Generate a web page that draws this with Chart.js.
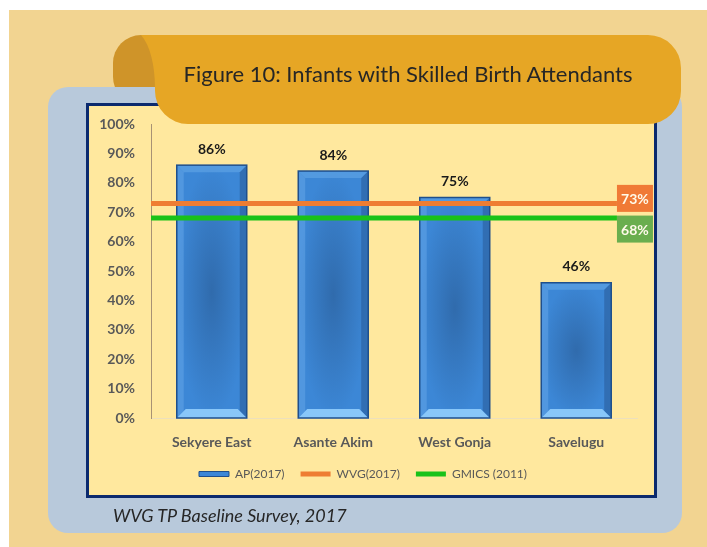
<!DOCTYPE html>
<html>
<head>
<meta charset="utf-8">
<script src="https://cdn.jsdelivr.net/npm/chart.js@4/dist/chart.umd.min.js"></script>
<style>
  html, body { margin:0; padding:0; }
  body { width:707px; height:547px; position:relative; overflow:hidden; background:#ffffff; font-family:Lato, sans-serif; }
  #bg, #banner { position:absolute; left:0; top:0; }
  #bg { z-index:0; }
  #box { position:absolute; left:86px; top:103px; width:565px; height:389px; border:3px solid #0B2A6E; background:#FFE89E; z-index:1; }
  #banner { z-index:2; }
  #title { position:absolute; left:0; width:816px; top:61px; line-height:26px; text-align:center; font-family:Lato, sans-serif; font-size:22px; color:#262626; z-index:3; white-space:nowrap; }
  #src { position:absolute; left:113px; top:504px; line-height:22px; font-family:Lato, sans-serif; font-style:italic; font-size:18px; color:#262626; z-index:3; white-space:nowrap; }
</style>
</head>
<body>
<svg id="bg" width="707" height="547">
  <rect x="9" y="10" width="698" height="537" fill="#F2D491"/>
  <rect x="113" y="35" width="70" height="70" rx="28" fill="#CF9429"/>
  <rect x="48" y="87" width="634" height="446" rx="20" fill="#B8C9DB"/>
</svg>
<div id="box"><canvas id="c" width="565" height="389" style="width:565px;height:389px;display:block"></canvas></div>
<svg id="banner" width="707" height="547">
  <path d="M141,35 H648 A33,33 0 0 1 681,68 V91 A33,33 0 0 1 648,124 H188 A33,33 0 0 1 155,91 V88 C155,65 150,45 141,35 Z" fill="#E6A625"/>
</svg>
<div id="title">Figure 10: Infants with Skilled Birth Attendants</div>
<div id="src">WVG TP Baseline Survey, 2017</div>
<script>
// ---- data ----
const categories = ['Sekyere East', 'Asante Akim', 'West Gonja', 'Savelugu'];
const apValues = [86, 84, 75, 46];
const wvgValue = 73;
const gmicsValue = 68;
const seriesNames = ['AP(2017)', 'WVG(2017)', 'GMICS (2011)'];
const yTickStep = 10;
const yMax = 100;

// ---- styling ----
const LINE_END = 3.835;           // reference lines stop where their label boxes start
const barColor = '#3C87D6';
const barEdge = '#1F4F8C';
const orange = '#EE7D33';
const green = '#19C219';
const orangeBox = '#F07A36';
const greenBox = '#6AAE4E';
const axisText = '#595959';

Chart.defaults.font.family = 'Lato, sans-serif';

const barBevel = {
  id: 'barBevel',
  afterDatasetDraw(chart, args) {
    if (args.index !== 0) return;
    const ctx = chart.ctx;
    args.meta.data.forEach(el => {
      const p = el.getProps(['x', 'y', 'base', 'width'], true);
      const l = p.x - p.width / 2, r = p.x + p.width / 2, t = p.y, b = p.base;
      const w = r - l, h = b - t, bv = 7;
      ctx.save();
      ctx.beginPath(); ctx.rect(l, t, w, h); ctx.clip();
      ctx.save();
      ctx.translate(p.x, (t + b) / 2);
      ctx.scale(w / 2, h / 2);
      const rg = ctx.createRadialGradient(0, 0, 0, 0, 0, 1);
      rg.addColorStop(0, 'rgba(30,65,110,0.4)');
      rg.addColorStop(1, 'rgba(30,65,110,0)');
      ctx.fillStyle = rg;
      ctx.fillRect(-1, -1, 2, 2);
      ctx.restore();
      ctx.fillStyle = 'rgba(120,180,240,0.35)';
      ctx.beginPath(); ctx.moveTo(l, t); ctx.lineTo(l + bv, t + bv); ctx.lineTo(l + bv, b - bv); ctx.lineTo(l, b); ctx.closePath(); ctx.fill();
      ctx.fillStyle = 'rgba(20,45,90,0.28)';
      ctx.beginPath(); ctx.moveTo(r, t); ctx.lineTo(r - bv, t + bv); ctx.lineTo(r - bv, b - bv); ctx.lineTo(r, b); ctx.closePath(); ctx.fill();
      ctx.fillStyle = 'rgba(140,200,250,0.3)';
      ctx.beginPath(); ctx.moveTo(l, t); ctx.lineTo(r, t); ctx.lineTo(r - bv, t + bv); ctx.lineTo(l + bv, t + bv); ctx.closePath(); ctx.fill();
      ctx.fillStyle = 'rgba(150,210,255,0.85)';
      ctx.beginPath(); ctx.moveTo(l, b); ctx.lineTo(r, b); ctx.lineTo(r - bv - 2, b - bv - 2); ctx.lineTo(l + bv + 2, b - bv - 2); ctx.closePath(); ctx.fill();
      ctx.restore();
      ctx.save();
      ctx.strokeStyle = barEdge; ctx.lineWidth = 1.5;
      ctx.strokeRect(l, t, w, h);
      ctx.restore();
    });
  }
};

const labelsPlugin = {
  id: 'valueLabels',
  afterDatasetsDraw(chart) {
    const ctx = chart.ctx;
    ctx.save();
    const barMeta = chart.getDatasetMeta(0);
    ctx.font = 'bold 14px Lato, sans-serif';
    ctx.fillStyle = '#1a1a1a';
    ctx.textAlign = 'center';
    ctx.textBaseline = 'middle';
    barMeta.data.forEach((el, i) => {
      const p = el.getProps(['x', 'y'], true);
      ctx.fillText(chart.data.datasets[0].data[i] + '%', p.x, p.y - 16);
    });
    [[1, orangeBox, -5], [2, greenBox, 11]].forEach(([di, col, off]) => {
      const meta = chart.getDatasetMeta(di);
      const last = meta.data[meta.data.length - 1];
      const p = last.getProps(['x', 'y'], true);
      const v = chart.data.datasets[di].data[1].y;
      const bw = 36, bh = 27;
      ctx.fillStyle = col;
      ctx.fillRect(p.x, p.y + off - bh / 2, bw, bh);
      ctx.fillStyle = '#FFFAEA';
      ctx.font = 'bold 14px Lato, sans-serif';
      ctx.fillText(v + '%', p.x + bw / 2, p.y + off + 1);
    });
    ctx.restore();
  }
};

new Chart(document.getElementById('c'), {
  type: 'bar',
  data: {
    labels: categories,
    datasets: [
      {
        label: seriesNames[0],
        data: apValues,
        backgroundColor: barColor,
        borderWidth: 0,
        grouped: false,
        barPercentage: 0.9,
        categoryPercentage: 0.64,
        order: 3
      },
      {
        type: 'line',
        label: seriesNames[1],
        xAxisID: 'x2',
        data: [{ x: 0, y: wvgValue }, { x: LINE_END, y: wvgValue }],
        borderColor: orange,
        backgroundColor: orange,
        borderWidth: 5,
        pointRadius: 0,
        order: 1
      },
      {
        type: 'line',
        label: seriesNames[2],
        xAxisID: 'x2',
        data: [{ x: 0, y: gmicsValue }, { x: LINE_END, y: gmicsValue }],
        borderColor: green,
        backgroundColor: green,
        borderWidth: 5,
        pointRadius: 0,
        order: 0
      }
    ]
  },
  options: {
    responsive: false,
    animation: false,
    layout: { padding: { top: 18, right: 17, bottom: 5, left: 0 } },
    scales: {
      x: {
        grid: { display: false, drawTicks: false },
        border: { display: true, color: '#EDE0BC', width: 1 },
        ticks: { color: axisText, font: { size: 14, weight: 'bold' }, padding: 16 },
        afterFit(s) { s.height = 34; }
      },
      x2: {
        type: 'linear',
        display: false,
        offset: false,
        grid: { offset: false },
        min: 0,
        max: categories.length
      },
      y: {
        min: 0,
        max: yMax,
        grid: { display: false, drawTicks: false },
        border: { display: true, color: '#A89274', width: 1 },
        ticks: {
          stepSize: yTickStep,
          color: axisText,
          font: { size: 14, weight: 'bold' },
          padding: 16,
          callback: v => v + '%'
        },
        afterFit(s) { s.width = 62; s.paddingTop = 0; s.paddingBottom = 0; }
      }
    },
    plugins: {
      tooltip: { enabled: false },
      legend: {
        position: 'bottom',
        labels: {
          boxWidth: 30,
          boxHeight: 5,
          padding: 16,
          color: axisText,
          font: { size: 12 },
          sort: (a, b) => a.datasetIndex - b.datasetIndex,
          generateLabels(chart) {
            return chart.data.datasets.map((ds, i) => ({
              text: ds.label,
              datasetIndex: i,
              fillStyle: i === 0 ? barColor : ds.borderColor,
              strokeStyle: i === 0 ? barEdge : ds.borderColor,
              lineWidth: i === 0 ? 1 : 0,
              hidden: false,
              fontColor: axisText
            }));
          }
        }
      }
    }
  },
  plugins: [barBevel, labelsPlugin]
});
</script>
</body>
</html>
